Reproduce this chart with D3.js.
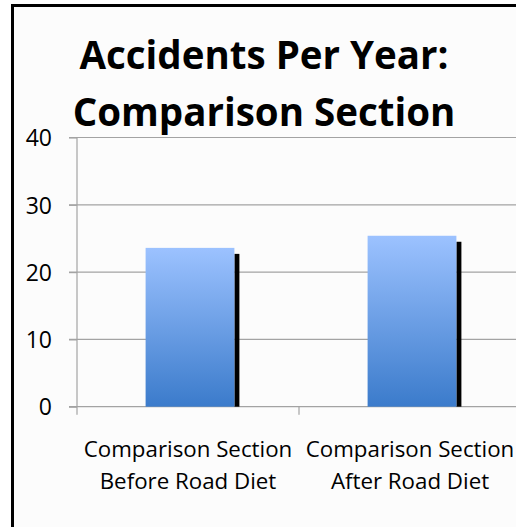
<!DOCTYPE html>
<html>
<head>
<meta charset="utf-8">
<script src="https://cdn.jsdelivr.net/npm/d3@7"></script>
<style>
  html, body { margin: 0; padding: 0; background: #ffffff; }
  svg { display: block; }
  text { font-family: "Open Sans", Lato, sans-serif; fill: #000; }
</style>
</head>
<body>
<div id="chart"></div>
<script>
// Chart data
const categories = [
  ["Comparison Section", "Before Road Diet"],
  ["Comparison Section", "After Road Diet"]
];
const accidentsPerYear = [23.6, 25.4];
const yTicks = [0, 10, 20, 30, 40];
const titleLines = ["Accidents Per Year:", "Comparison Section"];

const W = 516, H = 527;
const plot = { left: 77, right: 521, top: 137.5, bottom: 406.7 };

const svg = d3.select("#chart").append("svg")
  .attr("width", W).attr("height", H);

// Framed chart panel (left and top edges visible)
svg.append("rect")
  .attr("x", 12.5).attr("y", 5.5)
  .attr("width", W + 10).attr("height", H + 10)
  .attr("fill", "#fcfcfc")
  .attr("stroke", "#000").attr("stroke-width", 3);

// Bar gradient
const defs = svg.append("defs");
const grad = defs.append("linearGradient")
  .attr("id", "barFill").attr("x1", 0).attr("y1", 0).attr("x2", 0).attr("y2", 1);
grad.append("stop").attr("offset", "0%").attr("stop-color", "#9cc2ff");
grad.append("stop").attr("offset", "100%").attr("stop-color", "#3b7bcb");

// Scales
const x = d3.scaleBand()
  .domain(categories.map((d, i) => i))
  .range([plot.left, plot.right])
  .paddingInner(0).paddingOuter(0);
const y = d3.scaleLinear()
  .domain([0, 40])
  .range([plot.bottom, plot.top]);

// Gridlines
svg.append("g")
  .selectAll("line")
  .data(yTicks)
  .join("line")
  .attr("x1", plot.left - 8).attr("x2", W)
  .attr("y1", d => y(d)).attr("y2", d => y(d))
  .attr("stroke", "#a3a3a3").attr("stroke-width", 1.2);

// Y axis
const yAxis = d3.axisLeft(y).tickValues(yTicks).tickSize(8).tickPadding(17);
const gy = svg.append("g").attr("transform", `translate(${plot.left},0)`).call(yAxis);
gy.select(".domain").remove();
gy.selectAll(".tick line").attr("stroke", "#a3a3a3").attr("stroke-width", 1.2);
gy.selectAll(".tick text")
  .attr("font-family", "'Open Sans', sans-serif")
  .attr("font-size", 23)
  .attr("fill", "#222")
  .attr("dy", "0.36em");
svg.append("line")
  .attr("x1", plot.left).attr("x2", plot.left)
  .attr("y1", y(40)).attr("y2", y(0) + 8)
  .attr("stroke", "#a3a3a3").attr("stroke-width", 1.2);

// Category ticks along the baseline
svg.append("g")
  .selectAll("line")
  .data(categories.map((d, i) => i).slice(1).concat([categories.length]))
  .join("line")
  .attr("x1", i => i < categories.length ? x(i) : plot.right)
  .attr("x2", i => i < categories.length ? x(i) : plot.right)
  .attr("y1", y(0)).attr("y2", y(0) + 8)
  .attr("stroke", "#a3a3a3").attr("stroke-width", 1.2);

// Bars with a black drop shadow on the right
const barFrac = 0.4;
const bw = x.bandwidth() * barFrac;
const barX = i => x(i) + (x.bandwidth() - bw) / 2 + 2;

const bars = svg.append("g")
  .selectAll("g")
  .data(accidentsPerYear)
  .join("g");
bars.append("rect")
  .attr("x", (d, i) => barX(i) + bw)
  .attr("y", d => y(d) + 6)
  .attr("width", 5)
  .attr("height", d => y(0) - y(d) - 6)
  .attr("fill", "#000");
bars.append("rect")
  .attr("x", (d, i) => barX(i))
  .attr("y", d => y(d))
  .attr("width", bw)
  .attr("height", d => y(0) - y(d))
  .attr("fill", "url(#barFill)");

// Category labels (two lines each)
const cat = svg.append("g")
  .selectAll("text")
  .data(categories)
  .join("text")
  .attr("text-anchor", "middle")
  .attr("font-size", 22.3)
  .attr("fill", "#222");
cat.selectAll("tspan")
  .data((d, i) => d.map(line => ({ line, i })))
  .join("tspan")
  .attr("x", d => x(d.i) + x.bandwidth() / 2)
  .attr("y", (d, j) => 456.5 + j * 32)
  .text(d => d.line);

// Title
svg.append("g")
  .selectAll("text")
  .data(titleLines)
  .join("text")
  .attr("x", 264)
  .attr("y", (d, i) => 69 + i * 57)
  .attr("text-anchor", "middle")
  .attr("font-weight", 700)
  .attr("font-size", 38.5)
  .text(d => d);
</script>
</body>
</html>
